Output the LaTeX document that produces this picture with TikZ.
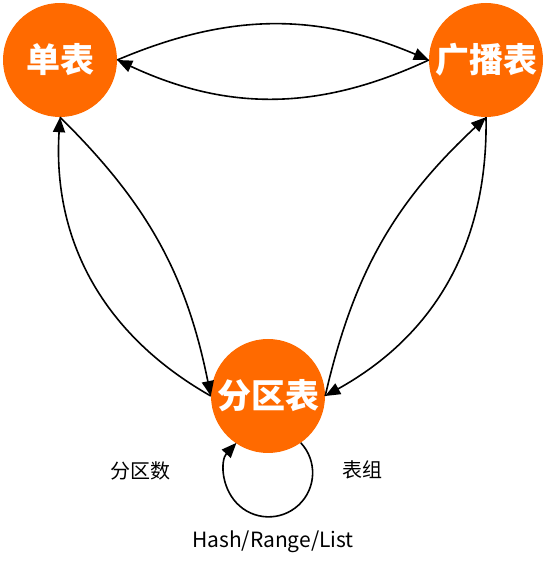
\documentclass[tikz,border=0pt]{standalone}
\usepackage{fontspec}
\setmainfont{Noto Sans CJK SC}
\usetikzlibrary{arrows.meta}
\definecolor{nodeorange}{HTML}{FF6A00}
\tikzset{
  table/.style={circle, fill=nodeorange, draw=none, minimum size=114pt, inner sep=0pt,
    text=white, font=\fontsize{34}{37}\selectfont\bfseries},
  conn/.style={line width=1.6pt, -{Triangle[length=15pt,width=12pt]}},
  lbl/.style={font=\fontsize{20}{22}\selectfont, text=black}
}
\begin{document}
\begin{tikzpicture}[x=1pt,y=1pt]
\useasboundingbox (0,0) rectangle (558,567);
\node[table] (dan) at (60,507) {单表};
\node[table] (guang) at (486,507) {广播表};
\node[table] (fen) at (268,171) {分区表};
% top pair
\draw[conn] (dan.east) to[bend left=23] (guang.west);
\draw[conn] (guang.west) to[bend left=25] (dan.east);
% left pair
\draw[conn] (fen.west) to[bend left=32] (dan.south);
\draw[conn] (dan.south) to[bend left=17] (fen.west);
% right pair
\draw[conn] (fen.east) to[bend left=17] (guang.south);
\draw[conn] (guang.south) to[bend left=31] (fen.east);
% loop
\draw[conn] (fen.-55) arc[start angle=43, end angle=-223, radius=44pt];
\node[lbl] (l1) at (140,96) {分区数};
\node[lbl] (l2) at (362,97) {表组};
\node[lbl, font=\fontsize{21}{23}\selectfont] (l3) at (273,25) {Hash/Range/List};
\end{tikzpicture}
\end{document}
